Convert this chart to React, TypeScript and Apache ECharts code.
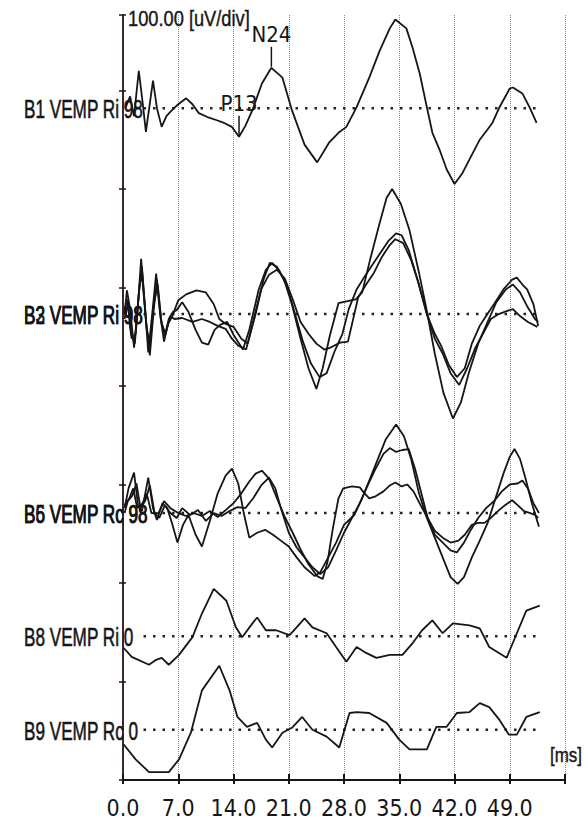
import React, { useEffect, useRef } from "react";
import * as echarts from "echarts";

const FONT = "'Liberation Sans', Arial, sans-serif";
const NARROW = "'Liberation Sans Narrow', 'DejaVu Sans Condensed', 'Liberation Sans', sans-serif";

// time axis (ms)
const xTicks = [0, 7, 14, 21, 28, 35, 42, 49, 56];
const xTickLabels = ["0.0", "7.0", "14.0", "21.0", "28.0", "35.0", "42.0", "49.0", ""];
const X_MAX = 56;
// amplitude axis (uV), 100 uV per division
const Y_DIV = 100;
const Y_MAX = 776.6;

// display offset (uV) of each row's zero line
const rowBaselines = [682, 473, 271, 146, 51];
const rowLabels = [
  ["B1 VEMP Ri 98"],
  ["B2 VEMP Ri 98", "B3 VEMP Ri 98"],
  ["B5 VEMP Rc 98", "B6 VEMP Rc 98"],
  ["B8 VEMP Ri 0"],
  ["B9 VEMP Rc 0"],
];
const zeroLineRange = [2.6, 52.6];

// waveforms: [ms, uV relative to row zero]
const b1: [number, number][] = [
  [0.3, 0], [0.9, 12], [1.4, -8], [2.0, 38], [2.5, 5], [2.9, -24], [3.4, 5], [3.8, 28], [4.3, 0], [4.9, -19],
  [5.5, -8], [6.2, -2], [7.0, 4], [8.0, 10], [8.8, 4], [9.6, -5], [10.7, -9], [11.8, -12], [12.8, -15], [13.8, -19],
  [14.7, -29], [15.5, -18], [16.4, -2], [17.6, 25], [18.8, 41], [20.2, 31], [21.4, -2], [23.0, -37], [24.6, -55],
  [26.1, -35], [27.3, -25], [28.3, -19], [29.6, 1], [31.2, 31], [32.5, 58], [33.8, 81], [34.5, 90], [35.9, 81],
  [36.7, 61], [37.6, 35], [38.5, 1], [39.2, -25], [40.1, -42], [41.0, -62], [42.0, -77], [43.0, -66], [43.9, -52],
  [45.2, -32], [46.8, -15], [47.7, 1], [49.0, 20], [49.4, 21], [50.6, 15], [51.5, 1], [52.4, -15],
];
const b2: [number, number][] = [
  [0.2, 0], [0.5, 24], [0.9, 5], [1.4, -34], [1.9, 10], [2.3, 56], [2.8, 5], [3.2, -39], [3.7, 0], [4.2, 41],
  [4.7, 0], [5.2, -28], [5.7, -10], [6.2, -3], [7.0, 14], [8.0, 20], [9.3, 24], [10.5, 22], [11.5, 10], [12.2, -5],
  [13.0, -10], [14.0, -13], [15.0, -25], [15.8, -30], [16.8, 0], [17.8, 35], [18.6, 52], [19.5, 48], [20.4, 35],
  [21.4, 10], [22.5, -25], [23.5, -55], [24.5, -76], [25.3, -55], [26.2, -22], [27.3, 11], [28.3, 13], [29.5, 15],
  [30.3, 22], [31.3, 55], [32.5, 92], [33.4, 118], [34.1, 127], [35.2, 112], [36.3, 85], [37.5, 42], [38.5, 3],
  [39.5, -40], [40.6, -80], [41.8, -106], [42.8, -90], [43.8, -60], [45.0, -30], [46.2, -8], [47.3, 12], [48.5, 25],
  [49.4, 30], [50.3, 22], [51.2, 8], [52.2, -5], [52.6, -8],
];
const b3: [number, number][] = [
  [0.2, 5], [0.6, 15], [1.0, -20], [1.5, -30], [2.0, 20], [2.4, 48], [2.9, -5], [3.4, -42], [3.9, 5], [4.3, 35],
  [4.8, -5], [5.3, -22], [5.8, -5], [6.3, 2], [6.8, 4], [7.5, 12], [8.3, 2], [9.2, -16], [10.0, -29], [10.8, -31],
  [11.6, -16], [12.3, -11], [13.2, -8], [14.0, -21], [15.2, -36], [16.0, -16], [17.2, 25], [18.1, 45], [18.9, 52],
  [19.8, 44], [20.8, 28], [21.8, 0], [22.8, -28], [23.8, -50], [24.9, -64], [25.8, -60], [26.8, -38], [27.8, -20],
  [28.6, 5], [29.6, 25], [30.6, 38], [31.6, 50], [32.6, 62], [33.6, 74], [34.6, 82], [35.3, 80], [36.2, 65],
  [37.3, 35], [38.5, 0], [39.5, -20], [40.3, -32], [41.3, -52], [42.3, -64], [43.3, -55], [44.2, -30], [45.2, -12],
  [46.0, -2], [47.0, 10], [48.2, 25], [49.3, 35], [49.9, 37], [50.6, 30], [51.2, 25], [52.0, 10], [52.6, -12],
];
const b4: [number, number][] = [
  [0.2, -5], [0.6, 10], [1.1, -25], [1.6, -20], [2.1, 30], [2.4, 40], [3.0, -15], [3.4, -30], [3.9, 10], [4.4, 30],
  [4.9, -10], [5.4, -20], [6.0, -2], [6.5, -5], [7.5, -4], [8.8, -8], [10.0, -5], [11.0, -8], [12.0, -12], [13.0, -15],
  [13.8, -25], [14.6, -32], [15.6, -36], [16.4, -10], [17.5, 25], [18.5, 40], [19.5, 45], [20.5, 36], [21.5, 15],
  [22.5, -8], [23.5, -20], [24.5, -30], [25.5, -36], [26.3, -34], [27.5, -29], [28.5, -28], [29.8, 17], [30.8, 30],
  [31.8, 42], [32.8, 58], [33.8, 70], [34.5, 76], [35.5, 72], [36.5, 55], [37.5, 30], [38.5, 0], [39.5, -25],
  [40.5, -40], [41.5, -60], [42.6, -72], [43.6, -55], [44.6, -35], [45.6, -20], [46.6, -5], [47.6, 0], [48.6, 3],
  [49.4, 5], [50.3, -2], [51.3, -8], [52.5, -13],
];
const b5: [number, number][] = [
  [0.2, 5], [0.7, 25], [1.4, 41], [1.9, 8], [2.4, 2], [3.2, 36], [3.8, 5], [4.3, -7], [5.0, 10], [5.6, 5],
  [6.2, -10], [6.9, -30], [7.6, -12], [8.3, -2], [9.2, -22], [10.0, -34], [11.0, -8], [12.0, 20], [13.0, 38],
  [13.8, 45], [14.6, 30], [15.3, 0], [16.0, -25], [17.0, -20], [18.0, -17], [19.0, -22], [20.0, -28], [21.0, -34],
  [22.0, -45], [23.0, -55], [24.3, -64], [25.0, -60], [26.0, -45], [27.0, -30], [28.0, -12], [29.3, -2], [30.3, 15],
  [31.3, 35], [32.3, 55], [33.3, 75], [34.6, 90], [35.6, 78], [36.5, 55], [37.5, 20], [38.5, -5], [39.5, -25],
  [40.5, -45], [41.5, -65], [42.4, -72], [43.2, -65], [44.2, -45], [45.2, -28], [46.2, -10], [47.2, 15], [48.2, 40],
  [49.0, 57], [49.6, 65], [50.3, 55], [51.0, 35], [51.8, 10], [52.7, -14],
];
const b6: [number, number][] = [
  [0.2, 8], [0.8, 15], [1.3, 25], [1.8, 5], [2.5, 10], [3.0, 20], [3.6, 0], [4.5, 0], [5.2, 12], [6.0, 5],
  [7.0, 0], [8.0, -3], [9.0, 0], [10.0, -3], [11.0, 2], [12.0, -4], [13.0, 3], [14.0, 10], [15.0, 20], [16.0, 32],
  [16.8, 40], [17.6, 43], [18.5, 35], [19.5, 15], [20.5, -4], [21.5, -20], [22.5, -37], [23.5, -52], [24.6, -64],
  [25.3, -67], [25.9, -50], [26.6, -15], [27.3, 15], [27.9, 25], [29.0, 27], [30.0, 26], [30.6, 20], [31.2, 15],
  [32.0, 17], [33.0, 22], [33.8, 28], [34.5, 31], [35.3, 27], [36.0, 29], [36.8, 22], [37.7, 8], [38.6, -5],
  [39.5, -18], [40.5, -25], [41.5, -30], [42.5, -28], [43.3, -22], [44.2, -12], [45.0, -10], [45.8, -10], [46.6, -5],
  [47.5, 2], [48.4, 8], [49.3, 13], [50.0, 8], [50.8, 2], [51.6, 0], [52.2, -2], [52.6, -5],
];
const b7: [number, number][] = [
  [0.2, 0], [0.6, 12], [1.2, 18], [1.7, 30], [2.2, 6], [2.8, 12], [3.4, 28], [4.0, 0], [4.6, -5], [5.3, 8],
  [6.0, 0], [6.8, -5], [7.5, 5], [8.5, -2], [9.5, 3], [10.5, -8], [11.5, 0], [12.5, -3], [13.5, 2], [14.5, 6],
  [15.5, 5], [16.5, 15], [17.5, 28], [18.5, 36], [19.3, 25], [20.0, 5], [21.0, -20], [22.0, -35], [23.0, -45],
  [24.0, -55], [25.0, -62], [26.0, -55], [27.0, -38], [28.0, -20], [29.0, -5], [30.0, 10], [31.0, 28], [32.0, 45],
  [33.0, 60], [33.8, 66], [34.6, 62], [35.4, 64], [36.2, 65], [37.0, 45], [37.8, 20], [38.6, -5], [39.5, -22],
  [40.5, -30], [41.5, -38], [42.3, -40], [43.2, -30], [44.0, -18], [45.0, -5], [46.0, 5], [47.0, 12], [48.0, 22],
  [49.0, 29], [50.0, 30], [50.6, 33], [51.3, 25], [52.0, 10], [52.7, 0],
];
const b8: [number, number][] = [
  [0.1, -12], [1.1, -21], [3.3, -29], [4.2, -24], [4.9, -22], [5.8, -29], [7.1, -19], [8.8, -1], [10.0, 23],
  [11.5, 48], [13.1, 36], [14.3, 9], [15.1, -1], [16.4, 13], [17.0, 19], [18.1, 6], [19.4, 6], [21.1, 1], [22.0, 9],
  [23.0, 18], [24.0, 9], [25.8, 3], [27.0, -11], [28.3, -26], [29.6, -11], [30.8, -17], [32.1, -22], [33.8, -19],
  [35.4, -19], [36.7, -7], [37.9, 6], [39.2, 16], [40.5, 3], [41.8, 13], [43.9, 11], [45.2, 8], [46.4, -11],
  [48.6, -22], [49.9, 3], [51.1, 26], [52.8, 31],
];
const b9: [number, number][] = [
  [0.1, -15], [1.6, -30], [3.3, -43], [5.8, -43], [7.1, -30], [8.6, -3], [10.0, 40], [12.2, 65], [13.5, 40],
  [14.5, 13], [15.7, 3], [17.0, 7], [18.1, -10], [18.9, -18], [20.2, -3], [21.4, 2], [22.7, 13], [24.0, 0],
  [25.8, -7], [27.4, -18], [28.7, 17], [29.6, 18], [31.2, 17], [33.4, 7], [35.0, -10], [36.3, -20], [38.5, -20],
  [39.7, 3], [41.0, 3], [42.3, 17], [43.9, 18], [45.2, 27], [46.4, 23], [47.7, 10], [48.9, -5], [49.9, -5],
  [51.1, 13], [52.8, 18],
];

const traceNames = ["B1", "B2", "B3", "B4", "B5", "B6", "B7", "B8", "B9"];
const traceData = [b1, b2, b3, b4, b5, b6, b7, b8, b9];
const traceRow = [0, 1, 1, 1, 2, 2, 2, 3, 4];

// latency markers on B1
const markerNames = ["N24", "P13"];
const markerTimes = [18.8, 14.7];
const markerAmps = [41, -29];

const INK = "#161616";

export default function App() {
  const ref = useRef<HTMLDivElement>(null);
  useEffect(() => {
    if (!ref.current) return;
    const chart = echarts.init(ref.current, null, { renderer: "svg" });

    const traceSeries = traceData.map((d, i) => ({
      name: traceNames[i],
      type: "line",
      xAxisIndex: 0,
      yAxisIndex: 0,
      symbol: "none",
      z: 3,
      lineStyle: { color: INK, width: 1.8 },
      data: d.map(([t, v]) => [t, v + rowBaselines[traceRow[i]]]),
      ...(i === 0
        ? {
            markPoint: {
              symbol: "rect",
              symbolSize: [1.5, 20],
              symbolOffset: [0, -11],
              itemStyle: { color: INK },
              label: {
                show: true,
                position: "top",
                distance: 1,
                formatter: "{b}",
                color: INK,
                fontSize: 22,
                fontFamily: NARROW,
              },
              data: markerNames.map((n, k) => ({
                name: n,
                coord: [markerTimes[k], markerAmps[k] + rowBaselines[0]],
              })),
            },
          }
        : {}),
    }));

    const zeroSeries = rowBaselines.map((b, i) => ({
      name: "zero" + i,
      type: "line",
      xAxisIndex: 0,
      yAxisIndex: 0,
      symbol: "none",
      silent: true,
      z: 2,
      lineStyle: { color: "#222", width: 2.5, type: [2.5, 7] },
      data: [
        [zeroLineRange[0], b],
        [zeroLineRange[1], b],
      ],
    }));

    const axisCommon = { min: 0, max: X_MAX, interval: 7, type: "value" as const };
    const yCommon = { min: 0, max: Y_MAX, interval: Y_DIV, type: "value" as const };

    chart.setOption({
      animation: false,
      backgroundColor: "#fff",
      grid: { left: 123, right: 23, top: 15, bottom: 40 },
      xAxis: [
        {
          ...axisCommon,
          position: "bottom",
          axisLine: { show: true, lineStyle: { color: INK, width: 2 } },
          axisTick: { show: true, inside: false, length: 4, lineStyle: { color: INK, width: 2 } },
          axisLabel: {
            show: true,
            margin: 16,
            color: INK,
            fontSize: 23,
            fontFamily: NARROW,
            formatter: (v: number) => {
              const k = xTicks.indexOf(v);
              return k >= 0 ? xTickLabels[k] : "";
            },
          },
          splitLine: { show: true, lineStyle: { color: "#8c8c8c", width: 1, type: [1, 1] } },
        },
        {
          ...axisCommon,
          position: "bottom",
          offset: 0,
          axisLine: { show: false },
          axisTick: { show: true, inside: true, length: 6, lineStyle: { color: INK, width: 2 } },
          axisLabel: { show: false },
          splitLine: { show: false },
        },
      ],
      yAxis: [
        {
          ...yCommon,
          position: "left",
          axisLine: { show: true, lineStyle: { color: "#3a2636", width: 2 } },
          axisTick: { show: true, inside: false, length: 4, lineStyle: { color: INK, width: 1.5 } },
          axisLabel: { show: false },
          splitLine: { show: false },
        },
        {
          ...yCommon,
          position: "left",
          offset: 0,
          axisLine: { show: false },
          axisTick: { show: true, inside: true, length: 3, lineStyle: { color: INK, width: 1.5 } },
          axisLabel: { show: false },
          splitLine: { show: false },
        },
      ],
      series: [...zeroSeries, ...traceSeries],
    });

    const graphics: any[] = [];
    rowLabels.forEach((labels, r) => {
      const p = chart.convertToPixel({ gridIndex: 0 }, [0, rowBaselines[r]]) as number[];
      labels.forEach((txt) => {
        graphics.push({
          type: "text",
          x: 24,
          y: p[1] + 1,
          scaleX: 0.66,
          silent: true,
          z: 10,
          style: {
            text: txt,
            fill: INK,
            stroke: INK,
            lineWidth: 0.6,
            fontSize: 26,
            fontFamily: FONT,
            align: "left",
            verticalAlign: "middle",
          },
        });
      });
    });
    const top = chart.convertToPixel({ gridIndex: 0 }, [0, Y_MAX]) as number[];
    graphics.push({
      type: "text",
      x: top[0] + 5,
      y: top[1] + 3,
      scaleX: 0.83,
      silent: true,
      z: 10,
      style: {
        text: "100.00 [uV/div]",
        fill: INK,
        stroke: INK,
        lineWidth: 0.4,
        fontSize: 22,
        fontFamily: FONT,
        align: "left",
        verticalAlign: "middle",
      },
    });
    const end = chart.convertToPixel({ gridIndex: 0 }, [X_MAX, 0]) as number[];
    graphics.push({
      type: "text",
      x: end[0] + 1,
      y: end[1] - 25,
      scaleX: 0.85,
      silent: true,
      z: 10,
      style: {
        text: "[ms]",
        fill: INK,
        stroke: INK,
        lineWidth: 0.4,
        fontSize: 20,
        fontFamily: FONT,
        align: "center",
        verticalAlign: "middle",
      },
    });
    chart.setOption({ graphic: graphics });

    return () => chart.dispose();
  }, []);
  return <div ref={ref} style={{ position: "fixed", left: 0, top: 0, width: 588, height: 820 }} />;
}
